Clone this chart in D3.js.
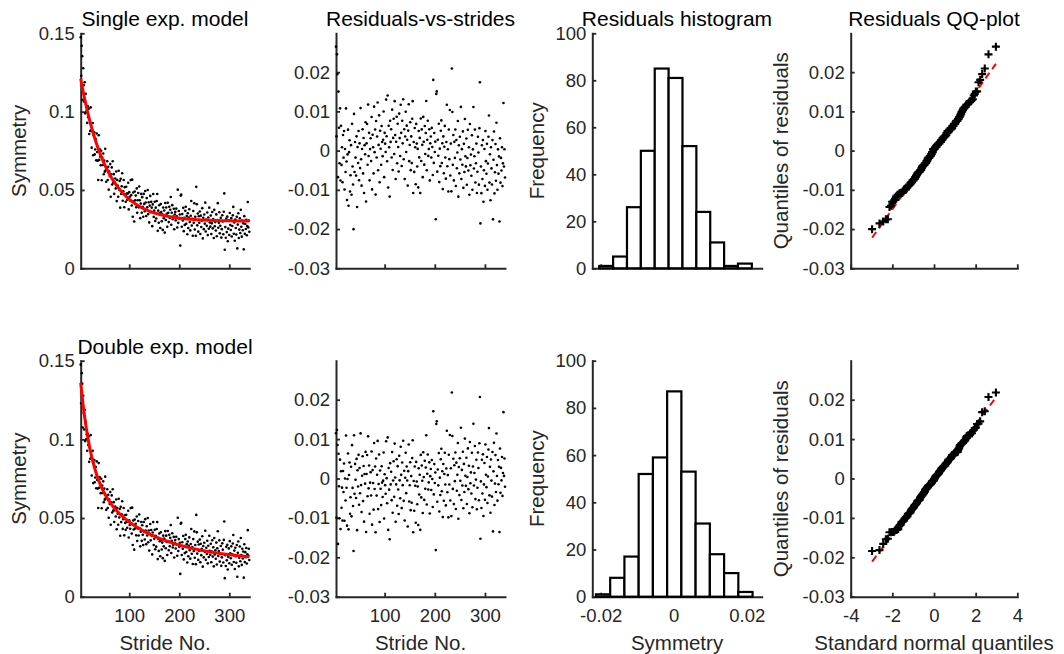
<!DOCTYPE html>
<html lang="en">
<head>
<meta charset="utf-8">
<script src="https://cdn.jsdelivr.net/npm/d3@7"></script>
<style>
  body { margin: 0; background: #fff; }
  svg { font-family: "Liberation Sans", Arial, Helvetica, sans-serif; }
  .axis path { stroke: #262626; stroke-width: 2px; stroke-linecap: square; }
  .axis line { stroke: #262626; stroke-width: 1.8px; }
  .axis text { fill: #262626; font-size: 18.5px; font-family: "Liberation Sans", Arial, Helvetica, sans-serif; }
  .lab { fill: #262626; font-size: 20.5px; }
  .ttl { fill: #000; font-size: 21px; }
</style>
</head>
<body>
<svg id="fig" width="1064" height="654"></svg>
<script>
// measured symmetry per stride, in units of 1e-4, strides 3..340
const firstStride = 3
const symmetryE4 = [
  1475, 1229, 1421, 1354, 1075, 1277, 1169, 1063, 1188, 989,
  1114, 1000, 1031, 928, 1035, 964, 1019, 857, 948, 877,
  1027, 880, 770, 875, 927, 722, 848, 868, 727, 758,
  825, 689, 860, 742, 687, 564, 849, 692, 760, 712,
  658, 750, 562, 707, 659, 733, 600, 687, 617, 763,
  626, 552, 639, 683, 564, 648, 502, 618, 589, 665,
  457, 600, 644, 535, 683, 547, 601, 475, 550, 573,
  510, 618, 429, 564, 528, 457, 623, 503, 557, 387,
  571, 474, 524, 607, 431, 492, 564, 390, 518, 469,
  425, 521, 477, 438, 477, 546, 376, 486, 456, 432,
  563, 467, 401, 566, 329, 484, 427, 299, 490, 434,
  464, 390, 510, 354, 434, 481, 389, 522, 434, 320,
  413, 475, 355, 454, 393, 329, 475, 411, 364, 493,
  420, 334, 448, 389, 500, 346, 421, 293, 400, 462,
  358, 424, 387, 269, 408, 474, 328, 368, 425, 302,
  387, 318, 430, 474, 239, 368, 291, 402, 352, 257,
  410, 359, 300, 344, 245, 388, 320, 369, 228, 417,
  308, 388, 348, 265, 418, 354, 295, 393, 321, 374,
  455, 278, 355, 403, 313, 330, 380, 249, 343, 360,
  306, 381, 332, 260, 502, 290, 366, 317, 343, 145,
  464, 470, 265, 346, 305, 386, 237, 322, 277, 367,
  393, 284, 334, 217, 351, 257, 324, 377, 296, 242,
  335, 430, 273, 316, 208, 366, 290, 415, 248, 329,
  207, 520, 409, 274, 350, 234, 332, 291, 363, 219,
  336, 264, 304, 384, 191, 322, 250, 343, 285, 419,
  235, 311, 271, 356, 212, 324, 252, 387, 292, 266,
  337, 219, 287, 359, 255, 314, 193, 373, 268, 295,
  241, 344, 205, 308, 416, 259, 290, 358, 223, 272,
  322, 196, 250, 339, 299, 217, 361, 478, 118, 263,
  195, 317, 231, 330, 173, 253, 307, 213, 353, 276,
  244, 320, 203, 270, 338, 392, 221, 293, 176, 311,
  257, 216, 329, 127, 279, 351, 193, 247, 319, 225,
  373, 265, 202, 305, 243, 287, 121, 333, 220, 283,
  251, 310, 211, 269, 423, 261, 305, 233
]
// fitted models: [amplitude, time constant, ...] and asymptote last
const singleFit = [0.091, 52, 0.030]
const doubleFit = [0.058, 21, 0.056, 120, 0.022]
// histogram counts, with first bin edge and bin width
const singleCounts = [1, 5, 26, 50, 85, 81, 52, 24, 11, 1, 2]
const singleBins = [-0.0204, 0.0038]
const doubleCounts = [1, 8, 17, 52, 59, 87, 53, 31, 18, 10, 2]
const doubleBins = [-0.0213, 0.0039]
// ticks
const strideTicks = [100, 200, 300]
const symTicks = [0, 0.05, 0.1, 0.15]
const resTicks = [-0.03, -0.02, -0.01, 0, 0.01, 0.02]
const freqTicks = [0, 20, 40, 60, 80, 100]
const histTicks = [-0.02, 0, 0.02]
const qqTicks = [-4, -2, 0, 2, 4]

const symmetry = symmetryE4.map(v => v / 10000)
const strides = symmetry.map((v, i) => firstStride + i)
const lastStride = strides[strides.length - 1]

let single = x => singleFit[2] + singleFit[0] * Math.exp(-(x - firstStride) / singleFit[1])
let double = x => doubleFit[4] + doubleFit[0] * Math.exp(-(x - firstStride) / doubleFit[1]) +
  doubleFit[2] * Math.exp(-(x - firstStride) / doubleFit[3])

// inverse normal cdf (Acklam)
function norminv(p) {
  const a = [-3.969683028665376e+01, 2.209460984245205e+02, -2.759285104469687e+02, 1.383577518672690e+02, -3.066479806614716e+01, 2.506628277459239e+00]
  const b = [-5.447609879822406e+01, 1.615858368580409e+02, -1.556989798598866e+02, 6.680131188771972e+01, -1.328068155288572e+01]
  const c = [-7.784894002430293e-03, -3.223964580411365e-01, -2.400758277161838e+00, -2.549732539343734e+00, 4.374664141464968e+00, 2.938163982698783e+00]
  const d = [7.784695709041462e-03, 3.224671290700398e-01, 2.445134137142996e+00, 3.754408661907416e+00]
  const tail = q => (((((c[0] * q + c[1]) * q + c[2]) * q + c[3]) * q + c[4]) * q + c[5]) / ((((d[0] * q + d[1]) * q + d[2]) * q + d[3]) * q + 1)
  if (p < 0.02425) return tail(Math.sqrt(-2 * Math.log(p)))
  if (p > 1 - 0.02425) return -tail(Math.sqrt(-2 * Math.log(1 - p)))
  const q = p - 0.5, r = q * q
  return (((((a[0] * r + a[1]) * r + a[2]) * r + a[3]) * r + a[4]) * r + a[5]) * q / (((((b[0] * r + b[1]) * r + b[2]) * r + b[3]) * r + b[4]) * r + 1)
}

const svg = d3.select("#fig")
const colX = [[80.7, 249.3], [336, 505], [592.3, 761.7], [850.7, 1017.3]]
const rowY = [[268.3, 33.3], [596.7, 360.7]]
const fmt = d => String(d)

function makeAxes(c, r, xDom, yDom, xTicks, yTicks) {
  let x = d3.scaleLinear().domain(xDom).range(colX[c])
  let y = d3.scaleLinear().domain(yDom).range(rowY[r])
  let xa = d3.axisBottom(x).tickValues(xTicks).tickSizeInner(-4).tickSizeOuter(0)
    .tickPadding(12).tickFormat(r == 1 ? fmt : () => "")
  let ya = d3.axisLeft(y).tickValues(yTicks).tickSizeInner(-4).tickSizeOuter(0)
    .tickPadding(6).tickFormat(fmt)
  svg.append("g").attr("class", "axis").attr("transform", `translate(0,${rowY[r][0]})`).call(xa)
  svg.append("g").attr("class", "axis").attr("transform", `translate(${colX[c][0]},0)`).call(ya)
  return { x, y, g: svg.append("g") }
}

function ylabel(c, r, px, txt) {
  svg.append("text").attr("class", "lab").attr("text-anchor", "middle")
    .attr("transform", `translate(${px},${(rowY[r][0] + rowY[r][1]) / 2}) rotate(-90)`).text(txt)
}
function xlabel(c, txt) {
  svg.append("text").attr("class", "lab").attr("text-anchor", "middle")
    .attr("x", (colX[c][0] + colX[c][1]) / 2).attr("y", 649.5).text(txt)
}
function title(c, r, txt) {
  svg.append("text").attr("class", "ttl").attr("text-anchor", "middle")
    .attr("x", (colX[c][0] + colX[c][1]) / 2).attr("y", rowY[r][1] - 7).text(txt)
}

const models = [
  { fit: single, counts: singleCounts, bins: singleBins, name: "Single exp. model" },
  { fit: double, counts: doubleCounts, bins: doubleBins, name: "Double exp. model" }
]

models.forEach((m, r) => {
  let resid = symmetry.map((v, i) => v - m.fit(strides[i]))

  // data + fitted curve
  let p1 = makeAxes(0, r, [firstStride, lastStride], [0, 0.15], strideTicks, symTicks)
  p1.g.selectAll("circle").data(symmetry).enter().append("circle")
    .attr("cx", (d, i) => p1.x(strides[i])).attr("cy", d => p1.y(d)).attr("r", 1.3).attr("fill", "#000")
  p1.g.append("path").attr("fill", "none").attr("stroke", "#ff0000").attr("stroke-width", 3)
    .attr("d", d3.line().x(d => p1.x(d)).y(d => p1.y(m.fit(d)))(strides))
  ylabel(0, r, 26, "Symmetry")
  title(0, r, m.name)

  // residuals vs strides
  let p2 = makeAxes(1, r, [firstStride, lastStride], [-0.03, 0.0299], strideTicks, resTicks)
  p2.g.selectAll("circle").data(resid).enter().append("circle")
    .attr("cx", (d, i) => p2.x(strides[i])).attr("cy", d => p2.y(d)).attr("r", 1.3).attr("fill", "#000")

  // histogram
  let p3 = makeAxes(2, r, [-0.0223, 0.0241], [0, 100], histTicks, freqTicks)
  p3.g.selectAll("rect").data(m.counts).enter().append("rect")
    .attr("x", (d, i) => p3.x(m.bins[0] + i * m.bins[1]))
    .attr("width", (d, i) => p3.x(m.bins[0] + (i + 1) * m.bins[1]) - p3.x(m.bins[0] + i * m.bins[1]))
    .attr("y", d => p3.y(d)).attr("height", d => p3.y(0) - p3.y(d))
    .attr("fill", "#fff").attr("stroke", "#000").attr("stroke-width", 2.2)
  ylabel(2, r, 544, "Frequency")

  // QQ plot
  let p4 = makeAxes(3, r, [-4, 4], [-0.03, 0.0299], qqTicks, resTicks)
  let sorted = resid.slice().sort(d3.ascending)
  let n = sorted.length
  let qq = sorted.map((v, i) => [norminv((i + 0.5) / n), v])
  let q1 = d3.quantile(sorted, 0.25), q3 = d3.quantile(sorted, 0.75)
  let z = norminv(0.75)
  let slope = (q3 - q1) / (2 * z), mid = (q1 + q3) / 2
  let ends = [qq[0][0], qq[n - 1][0]]
  p4.g.append("path").attr("fill", "none").attr("stroke", "#ff0000").attr("stroke-width", 2)
    .attr("stroke-dasharray", "7,4.5")
    .attr("d", d3.line().x(d => p4.x(d)).y(d => p4.y(mid + slope * d))(ends))
  p4.g.append("path").attr("fill", "none").attr("stroke", "#000").attr("stroke-width", 2.1)
    .attr("d", qq.map(d => {
      let px = p4.x(d[0]), py = p4.y(d[1])
      return `M${px - 4},${py}h8M${px},${py - 4}v8`
    }).join(""))
  ylabel(3, r, 787.5, "Quantiles of residuals")

  if (r == 0) {
    title(1, 0, "Residuals-vs-strides")
    title(2, 0, "Residuals histogram")
    title(3, 0, "Residuals QQ-plot")
  }
})

xlabel(0, "Stride No.")
xlabel(1, "Stride No.")
xlabel(2, "Symmetry")
xlabel(3, "Standard normal quantiles")
</script>
</body>
</html>
